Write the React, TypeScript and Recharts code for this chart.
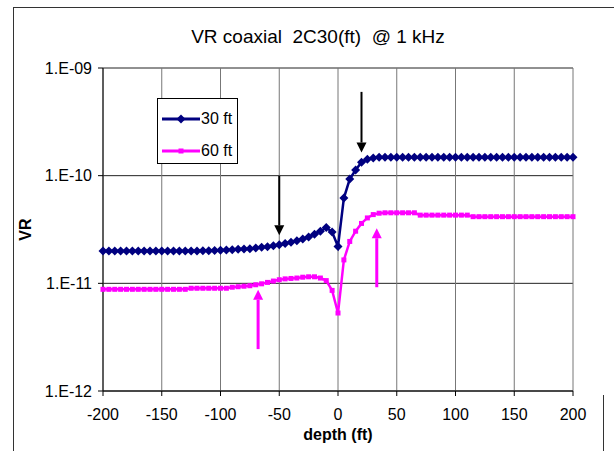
import React from "react";
import {
  LineChart,
  Line,
  XAxis,
  YAxis,
  CartesianGrid,
  ReferenceLine,
} from "recharts";

// depth in ft, one sample every 5 ft
const depthFt = [
  -200, -195, -190, -185, -180, -175, -170, -165, -160, -155, -150, -145, -140,
  -135, -130, -125, -120, -115, -110, -105, -100, -95, -90, -85, -80, -75, -70,
  -65, -60, -55, -50, -45, -40, -35, -30, -25, -20, -15, -10, -5, 0, 5, 10, 15,
  20, 25, 30, 35, 40, 45, 50, 55, 60, 65, 70, 75, 80, 85, 90, 95, 100, 105, 110,
  115, 120, 125, 130, 135, 140, 145, 150, 155, 160, 165, 170, 175, 180, 185,
  190, 195, 200,
];

const vr30ft = [
  2.0e-11, 2.0e-11, 2.0e-11, 2.0e-11, 2.0e-11, 2.0e-11, 2.0e-11, 2.0e-11,
  2.0e-11, 2.0e-11, 2.0e-11, 2.0e-11, 2.0e-11, 2.0e-11, 2.0e-11, 2.0e-11,
  2.0e-11, 2.01e-11, 2.01e-11, 2.02e-11, 2.03e-11, 2.04e-11, 2.05e-11,
  2.07e-11, 2.08e-11, 2.1e-11, 2.13e-11, 2.16e-11, 2.19e-11, 2.23e-11,
  2.28e-11, 2.34e-11, 2.41e-11, 2.49e-11, 2.58e-11, 2.7e-11, 2.86e-11,
  3.05e-11, 3.3e-11, 3.0e-11, 2.2e-11, 6.2e-11, 9.3e-11, 1.13e-10, 1.33e-10,
  1.42e-10, 1.46e-10, 1.48e-10, 1.48e-10, 1.48e-10, 1.48e-10, 1.48e-10,
  1.48e-10, 1.48e-10, 1.48e-10, 1.48e-10, 1.48e-10, 1.48e-10, 1.48e-10,
  1.48e-10, 1.48e-10, 1.48e-10, 1.48e-10, 1.48e-10, 1.48e-10, 1.48e-10,
  1.48e-10, 1.48e-10, 1.48e-10, 1.48e-10, 1.48e-10, 1.48e-10, 1.48e-10,
  1.48e-10, 1.48e-10, 1.48e-10, 1.48e-10, 1.48e-10, 1.48e-10, 1.48e-10,
  1.48e-10,
];

const vr60ft = [
  8.8e-12, 8.8e-12, 8.8e-12, 8.8e-12, 8.8e-12, 8.8e-12, 8.8e-12, 8.8e-12,
  8.8e-12, 8.8e-12, 8.8e-12, 8.8e-12, 8.8e-12, 8.8e-12, 8.8e-12, 9.0e-12,
  9.0e-12, 9.0e-12, 9.0e-12, 9.0e-12, 9.0e-12, 9.0e-12, 9.2e-12, 9.3e-12,
  9.4e-12, 9.5e-12, 9.7e-12, 9.9e-12, 1.02e-11, 1.05e-11, 1.08e-11, 1.1e-11,
  1.11e-11, 1.12e-11, 1.14e-11, 1.15e-11, 1.15e-11, 1.12e-11, 1.06e-11,
  8.6e-12, 5.3e-12, 1.65e-11, 2.45e-11, 3.05e-11, 3.6e-11, 4.05e-11, 4.35e-11,
  4.48e-11, 4.52e-11, 4.52e-11, 4.52e-11, 4.52e-11, 4.52e-11, 4.52e-11,
  4.3e-11, 4.3e-11, 4.3e-11, 4.3e-11, 4.3e-11, 4.3e-11, 4.3e-11, 4.3e-11,
  4.3e-11, 4.16e-11, 4.16e-11, 4.16e-11, 4.16e-11, 4.16e-11, 4.16e-11,
  4.16e-11, 4.16e-11, 4.16e-11, 4.16e-11, 4.16e-11, 4.16e-11, 4.16e-11,
  4.16e-11, 4.16e-11, 4.16e-11, 4.16e-11, 4.16e-11,
];

const xTicks = [-200, -150, -100, -50, 0, 50, 100, 150, 200];
const yTicks = [1e-12, 1e-11, 1e-10, 1e-9];

// annotation arrows: tail -> tip, in data units
const blackArrows = [
  { x: -50, from: 1.0e-10, to: 2.8e-11 },
  { x: 20, from: 6.0e-10, to: 1.64e-10 },
];
const pinkArrows = [
  { x: -68, from: 2.45e-12, to: 8.7e-12 },
  { x: 33, from: 9.2e-12, to: 3.25e-11 },
];

const seriesNames = ["30 ft", "60 ft"];

const NAVY = "#000080";
const PINK = "#ff00ff";
const FONT = '"Liberation Sans", Arial, sans-serif';

const chartData = depthFt.map((d, i) => ({
  depth: d,
  ft30: vr30ft[i],
  ft60: vr60ft[i],
}));

const fmtLog = (v: number) =>
  "1.E-" + String(Math.round(-Math.log10(v))).padStart(2, "0");

const Diamond = (props: any) => {
  const { cx, cy, index } = props;
  if (cx == null || cy == null) return <g key={index} />;
  const r = 4.5;
  return (
    <polygon
      key={index}
      points={`${cx},${cy - r} ${cx + r},${cy} ${cx},${cy + r} ${cx - r},${cy}`}
      fill={NAVY}
    />
  );
};

const Square = (props: any) => {
  const { cx, cy, index } = props;
  if (cx == null || cy == null) return <g key={index} />;
  return <rect key={index} x={cx - 2.5} y={cy - 2.5} width={5} height={5} fill={PINK} />;
};

const arrowShape = (color: string, width: number) => (props: any) => {
  const { x1, y1, x2, y2 } = props;
  const dir = y2 > y1 ? 1 : -1;
  const head = 10;
  return (
    <g>
      <line x1={x1} y1={y1} x2={x2} y2={y2 - dir * head} stroke={color} strokeWidth={width} />
      <polygon
        points={`${x2},${y2} ${x2 - 5},${y2 - dir * head} ${x2 + 5},${y2 - dir * head}`}
        fill={color}
      />
    </g>
  );
};

const LegendBox = () => (
  <div
    style={{
      position: "absolute",
      left: 157,
      top: 98,
      width: 79,
      height: 64,
      border: "1px solid #000",
      background: "#fff",
      fontFamily: FONT,
      fontSize: 16,
    }}
  >
    {seriesNames.map((name, i) => {
      const color = i === 0 ? NAVY : PINK;
      return (
        <div
          key={name}
          style={{ position: "absolute", left: 4, top: 10 + i * 32, height: 20, display: "flex", alignItems: "center" }}
        >
          <svg width={38} height={12}>
            <line x1={0} y1={6} x2={38} y2={6} stroke={color} strokeWidth={3} />
            {i === 0 ? (
              <polygon points="19,1.5 23.5,6 19,10.5 14.5,6" fill={NAVY} />
            ) : (
              <rect x={16.5} y={3.5} width={5} height={5} fill={PINK} />
            )}
          </svg>
          <span style={{ marginLeft: 1 }}>{name}</span>
        </div>
      );
    })}
  </div>
);

export default function App() {
  return (
    <div style={{ position: "absolute", left: 0, top: 0, width: 616, height: 451, fontFamily: FONT }}>
      {/* outer frame */}
      <div style={{ position: "absolute", left: 13, top: 7, width: 600, height: 460, borderLeft: "1px solid #333", borderTop: "1px solid #333" }} />
      <div style={{ position: "absolute", left: 603, top: 395, width: 0, height: 56, borderLeft: "1px solid #333" }} />
      <div
        style={{
          position: "absolute",
          left: 0,
          width: 616,
          top: 26,
          textAlign: "center",
          paddingLeft: 10,
          fontSize: 19,
          color: "#000",
        }}
      >
        VR coaxial&nbsp; 2C30(ft)&nbsp; @ 1 kHz
      </div>
      <div style={{ position: "absolute", left: 0, top: 0 }}>
        <LineChart
          width={616}
          height={451}
          data={chartData}
          margin={{ top: 68, right: 43, bottom: 5, left: 0 }}
        >
          <CartesianGrid vertical={false} stroke="#222" strokeWidth={1} />
          <CartesianGrid horizontal={false} stroke="#777" strokeWidth={1} />
          <XAxis
            dataKey="depth"
            type="number"
            domain={[-200, 200]}
            ticks={xTicks}
            height={55}
            tickSize={5}
            tickMargin={13}
            axisLine={{ stroke: "#000" }}
            tickLine={{ stroke: "#000" }}
            tick={{ fill: "#000", fontSize: 16, fontFamily: FONT }}
            label={{
              value: "depth (ft)",
              position: "insideBottom",
              offset: 6,
              style: { fill: "#000", fontSize: 16, fontWeight: "bold", fontFamily: FONT },
            }}
          />
          <YAxis
            scale="log"
            type="number"
            domain={[1e-12, 1e-9]}
            allowDataOverflow
            ticks={yTicks}
            tickFormatter={fmtLog}
            width={103}
            tickSize={5}
            tickMargin={6}
            axisLine={{ stroke: "#000" }}
            tickLine={{ stroke: "#000" }}
            tick={{ fill: "#000", fontSize: 16, fontFamily: FONT }}
            label={{
              value: "VR",
              angle: -90,
              position: "insideLeft",
              offset: 25,
              style: { fill: "#000", fontSize: 16, fontWeight: "bold", fontFamily: FONT, textAnchor: "middle" },
            }}
          />
          <Line
            dataKey="ft30"
            name={seriesNames[0]}
            stroke={NAVY}
            strokeWidth={2.5}
            dot={Diamond}
            isAnimationActive={false}
          />
          <Line
            dataKey="ft60"
            name={seriesNames[1]}
            stroke={PINK}
            strokeWidth={2.5}
            dot={Square}
            isAnimationActive={false}
          />
          {blackArrows.map((a, i) => (
            <ReferenceLine
              key={`b${i}`}
              segment={[
                { x: a.x, y: a.from },
                { x: a.x, y: a.to },
              ]}
              ifOverflow="visible"
              shape={arrowShape("#000", 2)}
            />
          ))}
          {pinkArrows.map((a, i) => (
            <ReferenceLine
              key={`p${i}`}
              segment={[
                { x: a.x, y: a.from },
                { x: a.x, y: a.to },
              ]}
              ifOverflow="visible"
              shape={arrowShape(PINK, 3)}
            />
          ))}
        </LineChart>
      </div>
      <LegendBox />
    </div>
  );
}
